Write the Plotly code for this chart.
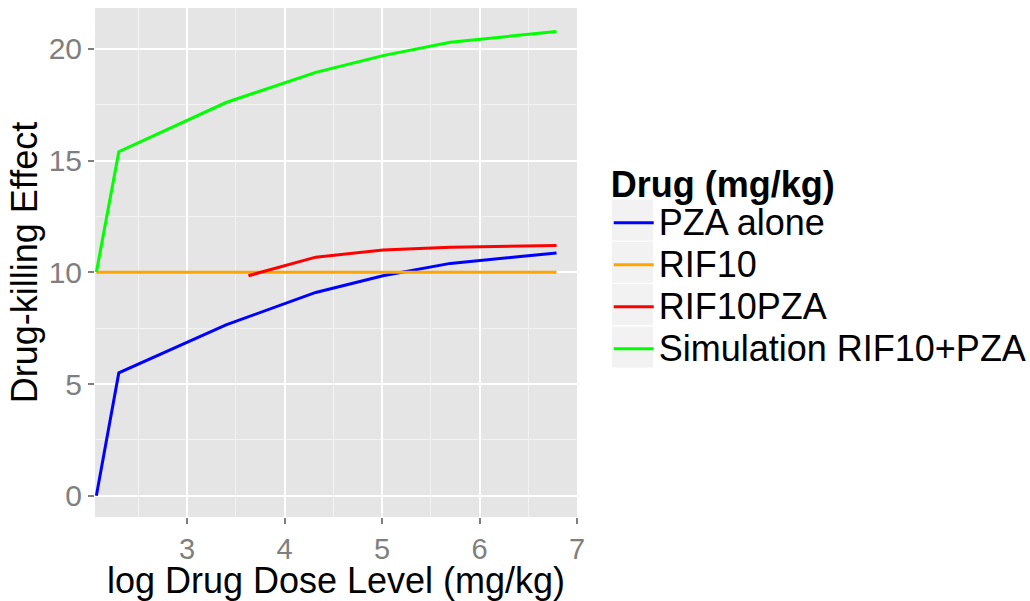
import plotly.graph_objects as go

# Data
pza_x = [2.07, 2.30, 3.40, 4.32, 5.01, 5.70, 6.79]
pza_y = [0.0, 5.5, 7.65, 9.1, 9.85, 10.4, 10.87]

rif_x = [2.07, 2.30, 3.40, 4.32, 5.01, 5.70, 6.79]
rif_y = [10.0, 10.0, 10.0, 10.0, 10.0, 10.0, 10.0]

rifpza_x = [3.63, 4.32, 5.01, 5.70, 6.79]
rifpza_y = [9.85, 10.68, 11.0, 11.12, 11.2]

sim_x = [2.07, 2.30, 3.40, 4.32, 5.01, 5.70, 6.79]
sim_y = [10.0, 15.4, 17.6, 18.95, 19.7, 20.3, 20.78]

series_names = ["PZA alone", "RIF10", "RIF10PZA", "Simulation RIF10+PZA"]
series_colors = ["#0000FF", "#FFA500", "#FF0000", "#00FF00"]
series_x = [pza_x, rif_x, rifpza_x, sim_x]
series_y = [pza_y, rif_y, rifpza_y, sim_y]

x_ticks = [3, 4, 5, 6, 7]
y_ticks = [0, 5, 10, 15, 20]

FONT = "Liberation Sans, Arial, sans-serif"
LEG_TEXT = 36

W, H = 1030, 601
ML, MR, MT, MB = 95, 453, 8, 84
PW, PH = W - ML - MR, H - MT - MB

fig = go.Figure()
for name, col, xs, ys in zip(series_names, series_colors, series_x, series_y):
    fig.add_trace(go.Scatter(
        x=xs, y=ys, mode="lines",
        name=f'<span style="font-size:{LEG_TEXT}px">{name}</span>',
        line=dict(color=col, width=3)))

# grey legend key backgrounds (ggplot style)
key_shapes = []
for i in range(len(series_names)):
    cy = 220 + i * 42.3
    key_shapes.append(dict(
        type="rect", xref="paper", yref="paper", layer="above",
        x0=(612 - ML) / PW, x1=(653 - ML) / PW,
        y0=(H - MB - (cy + 20.5)) / PH, y1=(H - MB - (cy - 20.5)) / PH,
        fillcolor="#F2F2F2", line=dict(width=0)))

axis_common = dict(
    showline=False, zeroline=False,
    ticks="outside", ticklen=6, tickwidth=1.5, tickcolor="#7F7F7F",
    gridcolor="#FFFFFF", gridwidth=1.6,
)

fig.update_layout(
    width=W, height=H,
    margin=dict(l=ML, r=MR, t=MT, b=MB, autoexpand=False),
    paper_bgcolor="#FFFFFF",
    plot_bgcolor="#E5E5E5",
    font=dict(family=FONT, color="#000000"),
    showlegend=True,
    shapes=key_shapes,
    legend=dict(
        title=dict(text="<b>Drug (mg/kg)</b>", font=dict(family=FONT, size=36, color="#000000")),
        font=dict(family=FONT, size=30, color="#000000"),
        xref="container", x=0.591, xanchor="left", y=0.5, yanchor="middle",
        bgcolor="rgba(0,0,0,0)",
        itemwidth=40,
    ),
    xaxis=dict(
        range=[2.056, 7.0], tickvals=x_ticks, ticktext=[str(v) for v in x_ticks],
        tickfont=dict(family=FONT, size=29, color="#7F7F7F"),
        minor=dict(dtick=0.5, tick0=0, showgrid=True, gridcolor="#F2F2F2", gridwidth=1, ticks=""),
        title=dict(text="log Drug Dose Level (mg/kg)", font=dict(family=FONT, size=36, color="#000000"), standoff=6),
        **axis_common,
    ),
    yaxis=dict(
        range=[-0.95, 21.83], tickvals=y_ticks, ticktext=[str(v) for v in y_ticks],
        tickfont=dict(family=FONT, size=30, color="#7F7F7F"),
        minor=dict(dtick=2.5, tick0=0, showgrid=True, gridcolor="#F2F2F2", gridwidth=1, ticks=""),
        title=dict(text="Drug-killing Effect", font=dict(family=FONT, size=36, color="#000000"), standoff=0),
        **axis_common,
    ),
)

fig.write_html("out.html")
